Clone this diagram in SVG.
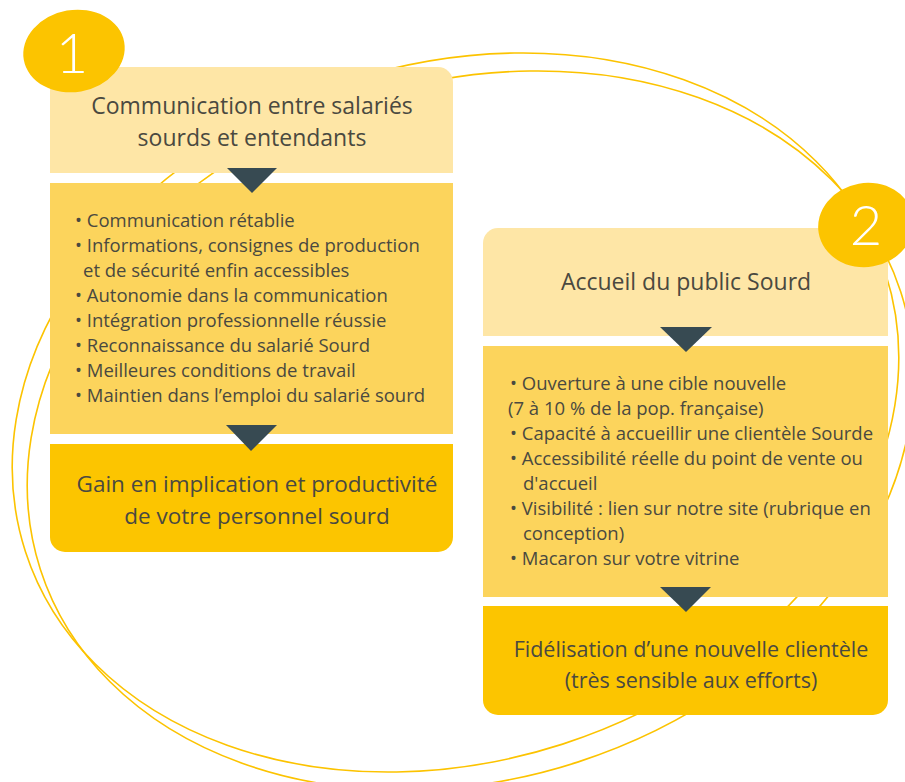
<svg xmlns="http://www.w3.org/2000/svg" width="905" height="782" viewBox="0 0 905 782">
<style>
  .ring { fill: none; stroke: #fcc300; stroke-width: 1.6; }
  .hd { fill: #fee6a6; }
  .bl { fill: #fcd45c; }
  .bt { fill: #fcc500; }
  .badge { fill: #fcc400; }
  .tri { fill: #374a52; }
  text { font-family: "Open Sans", "Liberation Sans", sans-serif; fill: #4a4940; }
  .t1 { font-size: 23px; text-anchor: middle; }
  .t3 { font-size: 22.5px; text-anchor: middle; }
  .t4 { font-size: 21.5px; text-anchor: middle; }
  .t2 { font-size: 18.5px; }
  .num { font-family: "Lato", "Liberation Sans", sans-serif; font-weight: 300; font-size: 56px; fill: #ffffff; text-anchor: middle; }
</style>
<g id="rings">
  <ellipse class="ring" cx="455.5" cy="412.5" rx="452" ry="348.5" transform="rotate(-17.9 455.5 412.5)"/>
  <ellipse class="ring" cx="470.5" cy="430.5" rx="452" ry="348.5" transform="rotate(-17.9 470.5 430.5)"/>
</g>
<g id="node1">
  <path class="hd" d="M50,82 A15,15 0 0 1 65,67 L438,67 A15,15 0 0 1 453,82 L453,173 L50,173 Z"/>
  <text class="t1" x="252" y="114">Communication entre salariés</text>
  <text class="t1" x="252" y="146">sourds et entendants</text>
</g>
<g id="node1b">
  <rect class="bl" x="50" y="183" width="403" height="251"/>
  <text class="t2" x="75" y="227">• Communication rétablie</text>
  <text class="t2" x="75" y="252">• Informations, consignes de production</text>
  <text class="t2" x="83" y="277">et de sécurité enfin accessibles</text>
  <text class="t2" x="75" y="302">• Autonomie dans la communication</text>
  <text class="t2" x="75" y="327">• Intégration professionnelle réussie</text>
  <text class="t2" x="75" y="352">• Reconnaissance du salarié Sourd</text>
  <text class="t2" x="75" y="377">• Meilleures conditions de travail</text>
  <text class="t2" x="75" y="402">• Maintien dans l’emploi du salarié sourd</text>
</g>
<g id="node1c">
  <path class="bt" d="M50,444 L453,444 L453,537 A15,15 0 0 1 438,552 L65,552 A15,15 0 0 1 50,537 Z"/>
  <text class="t3" x="257" y="492">Gain en implication et productivité</text>
  <text class="t3" x="257" y="524">de votre personnel sourd</text>
</g>
<g id="node2">
  <path class="hd" d="M483,243 A15,15 0 0 1 498,228 L873,228 A15,15 0 0 1 888,243 L888,336 L483,336 Z"/>
  <text class="t1" x="686" y="290">Accueil du public Sourd</text>
</g>
<g id="node2b">
  <rect class="bl" x="483" y="346" width="405" height="251"/>
  <text class="t2" x="510" y="390">• Ouverture à une cible nouvelle</text>
  <text class="t2" x="508" y="415">(7 à 10 % de la pop. française)</text>
  <text class="t2" x="510" y="440">• Capacité à accueillir une clientèle Sourde</text>
  <text class="t2" x="510" y="465">• Accessibilité réelle du point de vente ou</text>
  <text class="t2" x="523" y="490">d'accueil</text>
  <text class="t2" x="510" y="515">• Visibilité : lien sur notre site (rubrique en</text>
  <text class="t2" x="523" y="540">conception)</text>
  <text class="t2" x="510" y="565">• Macaron sur votre vitrine</text>
</g>
<g id="node2c">
  <path class="bt" d="M483,606 L888,606 L888,700 A15,15 0 0 1 873,715 L498,715 A15,15 0 0 1 483,700 Z"/>
  <text class="t4" x="691" y="657">Fidélisation d’une nouvelle clientèle</text>
  <text class="t4" x="691" y="688">(très sensible aux efforts)</text>
</g>
<g id="connectors">
  <polygon class="tri" points="227,168 277,168 252,193"/>
  <polygon class="tri" points="226,425 277,425 251,451"/>
  <polygon class="tri" points="660,327 712,327 686,352"/>
  <polygon class="tri" points="660,587 711,587 686,612"/>
</g>
<g id="badge1">
  <ellipse class="badge" cx="74" cy="51" rx="51" ry="41" transform="rotate(-10 74 51)"/>
  <text class="num" x="72" y="73">1</text>
</g>
<g id="badge2">
  <ellipse class="badge" cx="866" cy="225" rx="48" ry="42" transform="rotate(-10 866 225)"/>
  <text class="num" x="866" y="245">2</text>
</g>
</svg>
